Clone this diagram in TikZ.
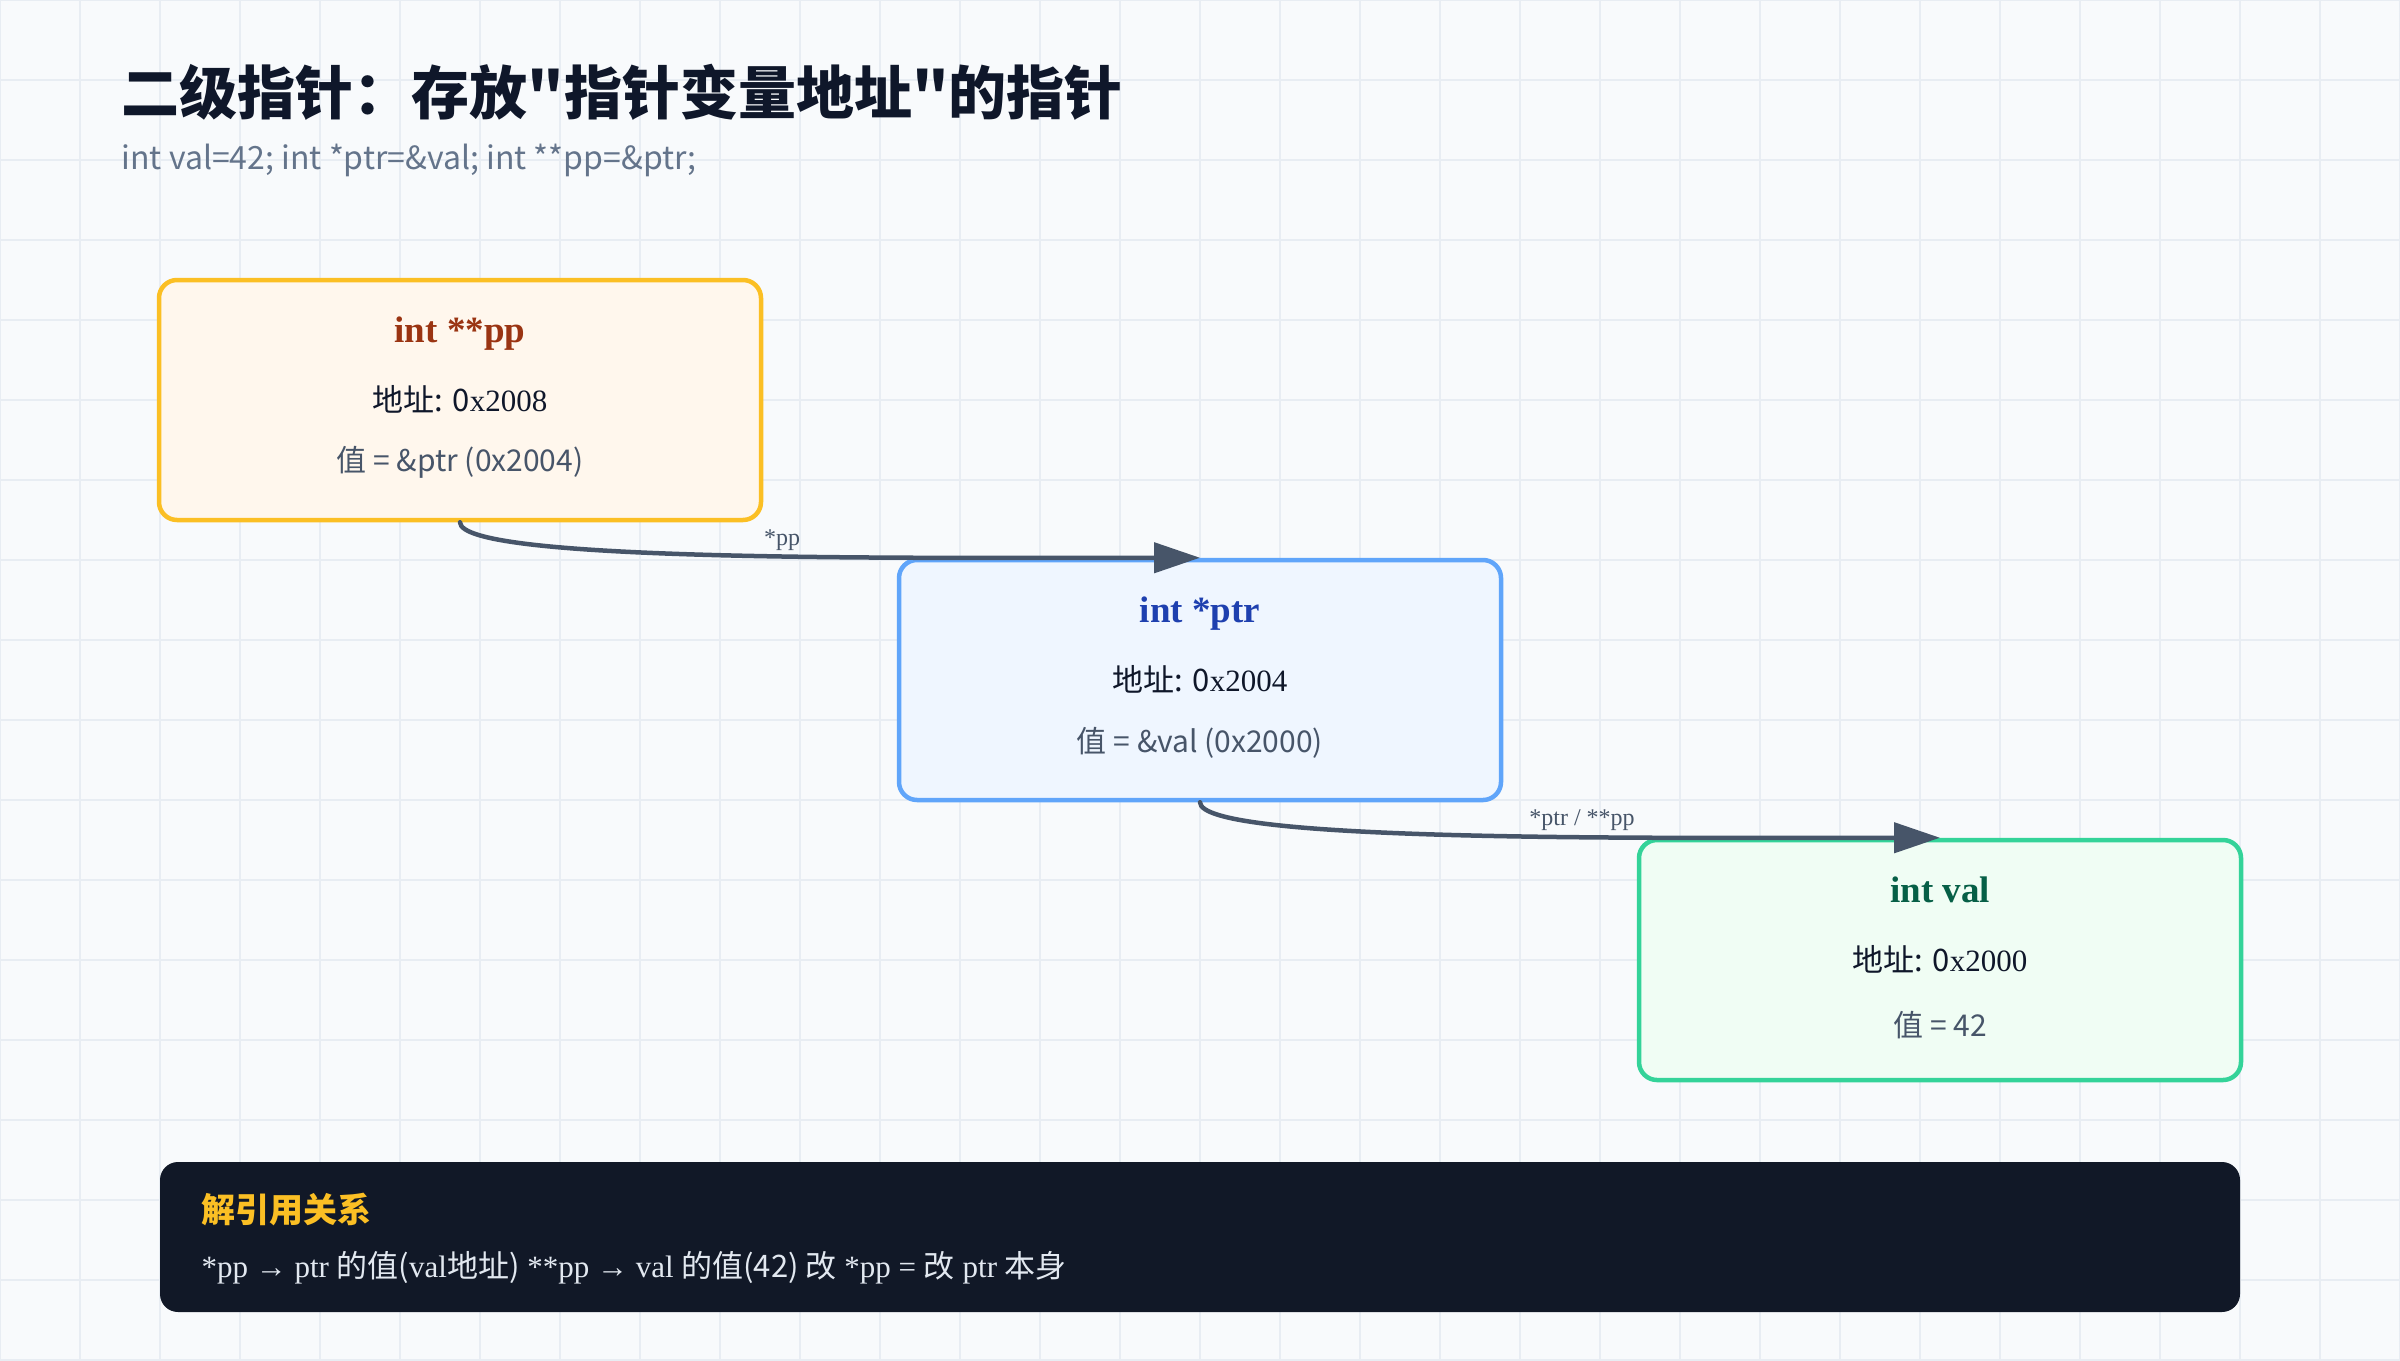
\documentclass[tikz,border=0pt]{standalone}
\usepackage{fontspec}
\setmainfont{Liberation Serif}
\newfontfamily\cjk{Noto Sans CJK SC}
\usetikzlibrary{arrows.meta,positioning}
\definecolor{bgc}{HTML}{F8FAFC}
\definecolor{gridc}{HTML}{E8EDF3}
\definecolor{inkc}{HTML}{0F172A}
\definecolor{grayc}{HTML}{64748B}
\definecolor{linec}{HTML}{475569}
\definecolor{ppfill}{HTML}{FFF7ED}
\definecolor{ppdraw}{HTML}{FBBF24}
\definecolor{pptext}{HTML}{9A3412}
\definecolor{ptrfill}{HTML}{EFF6FF}
\definecolor{ptrdraw}{HTML}{60A5FA}
\definecolor{ptrtext}{HTML}{1E40AF}
\definecolor{valfill}{HTML}{F0FDF4}
\definecolor{valdraw}{HTML}{34D399}
\definecolor{valtext}{HTML}{065F46}
\definecolor{darkc}{HTML}{111827}
\definecolor{lightc}{HTML}{E2E8F0}
\begin{document}
\begin{tikzpicture}[x=1pt,y=-1pt,line cap=round,line join=round,
  box/.style={draw,line width=4.5pt,rounded corners=18pt,minimum width=602pt,minimum height=240pt,inner sep=0pt},
  head/.style={font=\fontsize{37}{40}\selectfont\bfseries},
  addr/.style={font=\fontsize{31}{34}\selectfont,text=inkc},
  cont/.style={font=\fontsize{30}{34}\selectfont\cjk,text=linec},
  link/.style={draw=linec,line width=4.5pt,-{Triangle[length=46pt,width=30pt]}},
  tag/.style={font=\fontsize{24}{26}\selectfont,text=linec}]
\fill[bgc] (0,0) rectangle (2400,1360);
\useasboundingbox (0,0) rectangle (2400,1360);
\foreach \i in {0,80,...,2400} \draw[gridc,line width=1.5pt] (\i,0)--(\i,1360);
\foreach \j in {0,80,...,1360} \draw[gridc,line width=1.5pt] (0,\j)--(2400,\j);
% title
\node[anchor=west,text=inkc,font=\fontsize{58}{62}\selectfont\cjk\bfseries] (title) at (118,92) {二级指针：存放"指针变量地址"的指针};
\node[anchor=west,text=grayc,font=\fontsize{32}{36}\selectfont\cjk] (sub) at (118,160) {int val=42; int *ptr=\&val; int **pp=\&ptr;};
% boxes
\node[box,fill=ppfill,draw=ppdraw] (pp) at (460,400) {};
\node[box,fill=ptrfill,draw=ptrdraw] (ptr) at (1200,680) {};
\node[box,fill=valfill,draw=valdraw] (val) at (1940,960) {};
\node[head,text=pptext,below=36pt of pp.north] (pphead) {int **pp};
\node[addr] (ppaddr) at ([yshift=1pt]pp.center) {{\cjk 地址: 0}x2008};
\node[cont,above=40pt of pp.south] (ppval) {值 = \&ptr (0x2004)};
\node[head,text=ptrtext,below=36pt of ptr.north] (ptrhead) {int *ptr};
\node[addr] (ptraddr) at ([yshift=1pt]ptr.center) {{\cjk 地址: 0}x2004};
\node[cont,above=40pt of ptr.south] (ptrval) {值 = \&val (0x2000)};
\node[head,text=valtext,below=36pt of val.north] (valhead) {int val};
\node[addr] (valaddr) at ([yshift=1pt]val.center) {{\cjk 地址: 0}x2000};
\node[cont,above=40pt of val.south] (valval) {值 = 42};
% links
\draw[link] (pp.south) .. controls +(0,40) and +(-300,0) .. (ptr.north);
\draw[link] (ptr.south) .. controls +(0,40) and +(-300,0) .. (val.north);
\node[tag] (t1) at (782,540) {*pp};
\node[tag] (t2) at (1582,820) {*ptr / **pp};
% note
\node[fill=darkc,rounded corners=18pt,minimum width=2080pt,minimum height=150pt,inner sep=0pt] (note) at (1200,1237) {};
\node[anchor=west,text=ppdraw,font=\fontsize{34}{38}\selectfont\cjk\bfseries] (nhead) at (198,1209) {解引用关系};
\node[anchor=west,text=lightc,font=\fontsize{31}{34}\selectfont] (nbody) at (198,1268)
  {*pp → ptr {\cjk 的值(}val{\cjk 地址)} **pp → val {\cjk 的值(42) 改} *pp = {\cjk 改} ptr {\cjk 本身}};
\end{tikzpicture}
\end{document}
